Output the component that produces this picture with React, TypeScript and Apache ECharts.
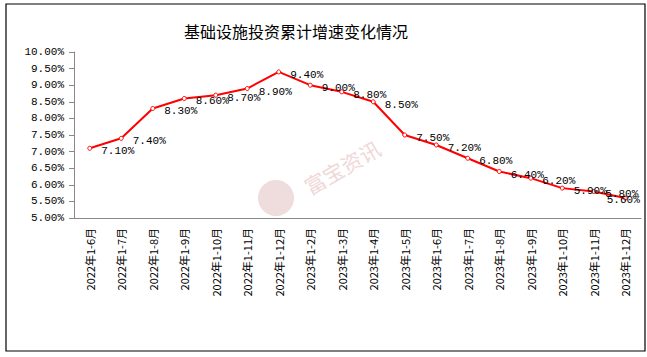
import React, { useEffect, useRef } from "react";
import * as echarts from "echarts";

const categories = [
  "2022年1-6月", "2022年1-7月", "2022年1-8月", "2022年1-9月", "2022年1-10月",
  "2022年1-11月", "2022年1-12月", "2023年1-2月", "2023年1-3月", "2023年1-4月",
  "2023年1-5月", "2023年1-6月", "2023年1-7月", "2023年1-8月", "2023年1-9月",
  "2023年1-10月", "2023年1-11月", "2023年1-12月",
];
const growth = [7.1, 7.4, 8.3, 8.6, 8.7, 8.9, 9.4, 9.0, 8.8, 8.5, 7.5, 7.2, 6.8, 6.4, 6.2, 5.9, 5.8, 5.6];
const titleText = "基础设施投资累计增速变化情况";
const watermarkText = "富宝资讯";

export default function App() {
  const ref = useRef<HTMLDivElement>(null);
  useEffect(() => {
    document.body.style.margin = "0";
    const chart = echarts.init(ref.current!, null, { renderer: "svg" });
    const lastIdx = growth.length - 1;
    chart.setOption({
      animation: false,
      backgroundColor: "#fff",
      title: {
        text: titleText,
        left: 291,
        textAlign: "center",
        top: 18,
        textStyle: { fontSize: 16, fontWeight: "normal", color: "#000", fontFamily: "Noto Sans CJK SC" },
      },
      graphic: [
        {
          type: "rect",
          shape: { x: 6, y: 4, width: 639, height: 347 },
          style: { fill: "none", stroke: "#000", lineWidth: 1.2 },
          silent: true,
        },
        {
          type: "circle",
          shape: { cx: 276, cy: 198, r: 18 },
          style: { fill: "#efdcdc" },
          silent: true,
          z: -1,
        },
        {
          type: "text",
          x: 342,
          y: 167,
          rotation: Math.PI / 6,
          style: {
            text: watermarkText,
            fill: "#efd8d8",
            font: "21px 'Noto Sans CJK SC'",
            align: "center",
            verticalAlign: "middle",
          },
          silent: true,
          z: -1,
        },
      ],
      grid: { left: 74, top: 52, right: 6, bottom: 139, containLabel: false },
      xAxis: {
        type: "category",
        data: categories,
        boundaryGap: true,
        axisLine: { lineStyle: { color: "#888", width: 1 } },
        axisTick: { show: false },
        axisLabel: {
          rotate: 90,
          interval: 0,
          margin: 10,
          fontSize: 11,
          color: "#000",
          fontFamily: "Noto Sans CJK SC",
        },
        splitLine: { show: false },
      },
      yAxis: {
        type: "value",
        min: 5,
        max: 10,
        interval: 0.5,
        axisLine: { show: true, lineStyle: { color: "#888", width: 1 } },
        axisTick: { show: true, length: 5, lineStyle: { color: "#888" } },
        axisLabel: {
          formatter: (v: number) => v.toFixed(2) + "%",
          fontSize: 11,
          color: "#000",
          margin: 10,
          fontFamily: "Liberation Mono",
        },
        splitLine: { show: false },
      },
      series: [
        {
          type: "line",
          data: growth.map((v, i) =>
            i === lastIdx
              ? { value: v, label: { position: "inside", offset: [-2, 2] } }
              : v
          ),
          symbol: "circle",
          symbolSize: 4,
          itemStyle: { color: "#fff", borderColor: "#ff0000", borderWidth: 1 },
          lineStyle: { color: "#ff0000", width: 2 },
          label: {
            show: true,
            position: "right",
            distance: 9,
            offset: [0, 3],
            formatter: (p: any) => Number(p.value).toFixed(2) + "%",
            fontSize: 11,
            color: "#000",
            fontFamily: "Liberation Mono",
          },
          z: 3,
        },
      ],
    });
    return () => chart.dispose();
  }, []);
  return <div ref={ref} style={{ width: 647, height: 357 }} />;
}
